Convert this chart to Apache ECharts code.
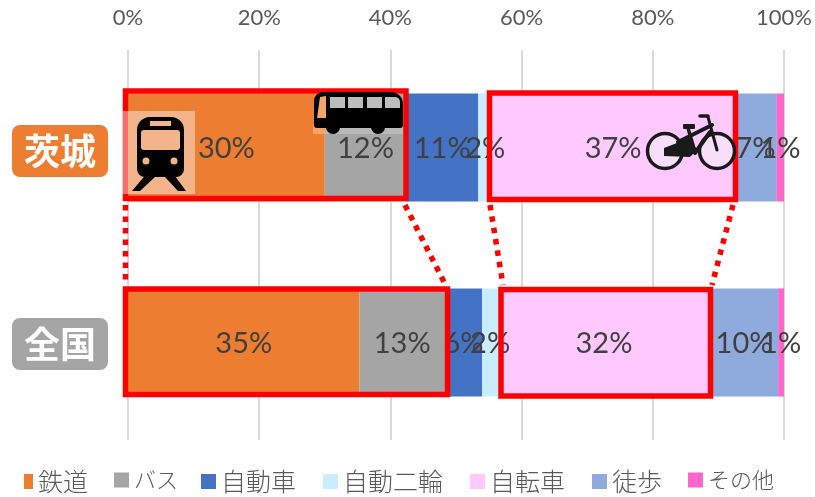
<!DOCTYPE html>
<html>
<head>
<meta charset="utf-8">
<script src="https://cdn.jsdelivr.net/npm/echarts@6/dist/echarts.min.js"></script>
<style>
  html, body { margin: 0; padding: 0; background: #fff; }
  #chart { width: 815px; height: 497px; }
</style>
</head>
<body>
<div id="chart"></div>
<script>
const regions = ['全国', '茨城'];
const modes = ['鉄道', 'バス', '自動車', '自動二輪', '自転車', '徒歩', 'その他'];
const colors = ['#ed7d31', '#a5a5a5', '#4472c4', '#c9ecff', '#ffc9ff', '#8faadc', '#ff66cc'];
// [全国, 茨城]
const rail = [35.3, 30.0];
const bus = [13.0, 12.4];
const car = [5.7, 11.0];
const motorbike = [2.4, 2.1];
const bicycle = [32.3, 36.9];
const walk = [10.4, 6.5];
const other = [0.9, 1.1];
const values = [rail, bus, car, motorbike, bicycle, walk, other];
const ticks = [0, 20, 40, 60, 80, 100];

const latin = 'Lato, "Open Sans", sans-serif';
const cjk = '"Noto Sans CJK JP", sans-serif';
const red = '#ff0000';

function box(x, y, w, h, fill, r) {
  return { type: 'rect', shape: { x: x, y: y, width: w, height: h, r: r || 0 }, style: { fill: fill } };
}
function frame(x1, y1, x2, y2) {
  return {
    type: 'rect',
    shape: { x: x1, y: y1, width: x2 - x1, height: y2 - y1 },
    style: { fill: 'none', stroke: red, lineWidth: 5.5 }
  };
}
function dots(x1, y1, x2, y2) {
  return {
    type: 'line',
    shape: { x1: x1, y1: y1, x2: x2, y2: y2 },
    style: { stroke: red, lineWidth: 5.5, lineDash: [5.5, 6] }
  };
}
function stroke(x1, y1, x2, y2, w, color) {
  return {
    type: 'line',
    shape: { x1: x1, y1: y1, x2: x2, y2: y2 },
    style: { stroke: color || '#1a1a1a', lineWidth: w, lineCap: 'round' }
  };
}
function poly(points, fill) {
  return { type: 'polygon', shape: { points: points }, style: { fill: fill } };
}
function circle(cx, cy, r, fill, line, w) {
  return {
    type: 'circle',
    shape: { cx: cx, cy: cy, r: r },
    style: { fill: fill, stroke: line || null, lineWidth: w || 0 }
  };
}

// 電車のアイコン
const trainIcon = [
  box(128, 111, 67, 83, '#f3b48b'),
  box(123, 111, 5, 83, '#f56f6f'),
  poly([[148, 172], [156, 176], [140, 191], [132, 191]], '#000'),
  poly([[172, 172], [164, 176], [178, 191], [186, 191]], '#000'),
  box(137, 117, 47, 60, '#000', [13, 13, 8, 8]),
  box(150, 121, 21, 5, '#f3b48b'),
  box(141, 130, 39, 20, '#f3b48b', 3),
  circle(146, 161, 3.5, '#f3b48b'),
  circle(174, 161, 3.5, '#f3b48b')
];

// バスのアイコン
const busIcon = [
  box(313, 125, 13, 9, '#f3a56f'),
  box(326, 125, 77, 9, '#b9b9b9'),
  box(314, 92, 89, 36, '#000', [9, 12, 3, 3]),
  circle(333, 127, 7, '#000'),
  circle(378, 127, 7, '#000'),
  poly([[320, 97], [326, 96], [326, 118], [317, 118]], '#f3a56f'),
  box(330, 97, 15, 11, '#bdbdbd'),
  box(348, 97, 15, 11, '#bdbdbd'),
  box(367, 97, 15, 11, '#bdbdbd'),
  box(385, 97, 15, 11, '#bdbdbd', [0, 5, 0, 0])
];

// 自転車のアイコン
const bikeIcon = [
  circle(665, 151, 17.5, '#f8def9', '#1a1a1a', 3.5),
  circle(717, 151, 17.5, '#f8def9', '#1a1a1a', 3.5),
  poly([[664, 148], [690, 138], [697, 150], [690, 157], [664, 156]], '#1a1a1a'),
  stroke(678, 142, 712, 125, 4),
  stroke(695, 153, 710, 132, 4),
  stroke(688, 128, 695, 152, 3.5),
  stroke(708, 117, 717, 150, 3),
  stroke(700, 116, 708, 116, 3.5),
  box(683, 124, 12, 5, '#1a1a1a', 1)
];

const overlay = [
  dots(125.5, 205, 125.5, 285),
  dots(405, 205, 445, 284),
  dots(490, 205, 503, 285),
  dots(733, 205, 712, 285),
  frame(125.5, 91, 406, 198.5),
  frame(489.5, 93, 735.5, 199.5),
  frame(125.5, 289, 447.5, 394.5),
  frame(501, 289.5, 710.5, 396)
].concat(trainIcon, busIcon, bikeIcon).map(function (el) {
  el.z = 100;
  return el;
});

const series = modes.map(function (name, i) {
  return {
    name: name,
    type: 'bar',
    stack: 'share',
    barWidth: '55.5%',
    itemStyle: { color: colors[i] },
    label: {
      show: true,
      position: 'inside',
      offset: [0, 1],
      color: '#404040',
      fontFamily: latin,
      fontSize: 29,
      formatter: function (p) { return Math.round(p.value) + '%'; }
    },
    data: values[i]
  };
});

// 凡例は項目ごとに置く（かなの字幅が元図より広いため）
const legendLeft = [24, 114, 201, 323, 470, 592, 688];
const legends = modes.map(function (name, i) {
  const kana = name === 'バス' || name === 'その他';
  return {
    data: [name],
    left: legendLeft[i],
    top: 469,
    padding: 0,
    icon: 'rect',
    itemWidth: i === 0 ? 9 : 15,
    itemHeight: 15,
    textStyle: { color: '#595959', fontFamily: cjk, fontSize: kana ? 22 : 25, fontWeight: 300 }
  };
});

const chart = echarts.init(document.getElementById('chart'));
chart.setOption({
  animation: false,
  grid: { left: 128, right: 29, top: 50, bottom: 57 },
  legend: legends,
  xAxis: {
    type: 'value',
    position: 'top',
    min: ticks[0],
    max: ticks[ticks.length - 1],
    interval: 20,
    axisLine: { show: false },
    axisTick: { show: false },
    axisLabel: {
      color: '#595959',
      fontFamily: latin,
      fontSize: 22,
      margin: 21,
      formatter: '{value}%'
    },
    splitLine: { show: true, lineStyle: { color: '#d9d9d9', width: 2 } }
  },
  yAxis: {
    type: 'category',
    data: regions,
    axisLine: { show: false },
    axisTick: { show: false },
    axisLabel: {
      margin: 20,
      formatter: function (v) {
        return v === '茨城' ? '{s1|}\n{ibaraki|' + v + '}' : '{s2|}\n{zenkoku|' + v + '}';
      },
      rich: {
        s1: { height: 7, lineHeight: 7, fontSize: 1 },
        s2: { height: 3, lineHeight: 3, fontSize: 1 },
        ibaraki: {
          backgroundColor: colors[0], color: '#fff', borderRadius: 8,
          width: 96, height: 52, lineHeight: 52, align: 'center',
          fontFamily: cjk, fontWeight: 'bold', fontSize: 36
        },
        zenkoku: {
          backgroundColor: colors[1], color: '#fff', borderRadius: 8,
          width: 96, height: 52, lineHeight: 52, align: 'center',
          fontFamily: cjk, fontWeight: 'bold', fontSize: 36
        }
      }
    }
  },
  series: series,
  graphic: { elements: overlay }
});
</script>
</body>
</html>
